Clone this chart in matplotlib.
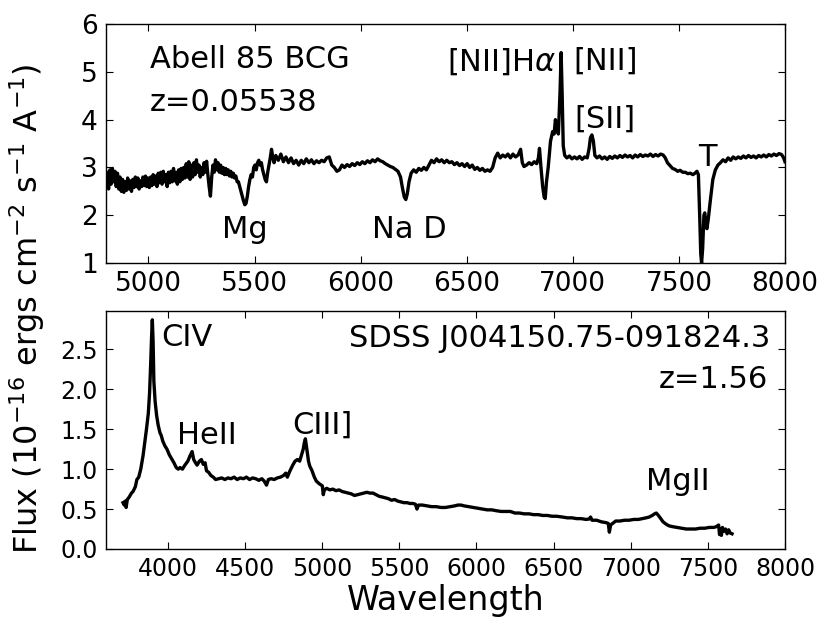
import matplotlib
matplotlib.use('Agg')
import matplotlib.pyplot as plt

plt.rcParams.update({'font.family': 'DejaVu Sans', 'mathtext.fontset': 'dejavusans'})

# espectro da BCG de Abell 85
onda_bcg = [4800, 4806, 4812, 4818, 4824, 4830, 4836, 4842, 4848, 4854, 4860, 4866, 4872, 4878,
            4884, 4890, 4896, 4902, 4908, 4914, 4920, 4926, 4932, 4938, 4944, 4950, 4956, 4962,
            4968, 4974, 4980, 4986, 4992, 4998, 5004, 5010, 5016, 5022, 5028, 5034, 5040, 5046,
            5052, 5058, 5064, 5070, 5076, 5082, 5088, 5094, 5100, 5106, 5112, 5118, 5124, 5130,
            5136, 5142, 5148, 5154, 5160, 5166, 5172, 5178, 5184, 5190, 5196, 5202, 5208, 5214,
            5220, 5226, 5232, 5238, 5244, 5250, 5256, 5262, 5268, 5274, 5280, 5286, 5292, 5298,
            5304, 5310, 5316, 5322, 5328, 5334, 5340, 5346, 5352, 5358, 5364, 5370, 5376, 5382,
            5388, 5394, 5400, 5406, 5412, 5418, 5424, 5430, 5436, 5442, 5448, 5454, 5460, 5466,
            5472, 5478, 5484, 5490, 5496, 5502, 5508, 5514, 5520, 5526, 5532, 5538, 5544, 5550,
            5556, 5562, 5568, 5574, 5580, 5586, 5592,
            5600, 5612, 5624, 5636, 5648, 5660, 5672, 5684, 5696, 5708, 5720, 5732, 5744, 5756,
            5768, 5780, 5792, 5804, 5816, 5828, 5840, 5852, 5864, 5876, 5888, 5900, 5912, 5924,
            5936, 5948, 5960, 5972, 5984, 5996, 6008, 6020, 6032, 6044, 6056, 6068, 6080, 6092,
            6104, 6116, 6128, 6140, 6152, 6164, 6176, 6188, 6198, 6206, 6213, 6220, 6228, 6238,
            6250, 6262, 6274, 6286, 6298, 6310, 6322, 6334, 6346, 6358, 6370, 6382, 6394, 6406,
            6418, 6430, 6442, 6454, 6466, 6478, 6490, 6502, 6514, 6526, 6538, 6550, 6562, 6574,
            6586, 6598, 6610, 6622, 6634, 6646, 6658, 6670, 6682, 6694, 6706, 6718, 6730, 6742,
            6754, 6762, 6770, 6782, 6794, 6806, 6818, 6830, 6838, 6843, 6850, 6858, 6865, 6870,
            6876, 6884, 6895, 6905, 6912, 6918, 6925, 6932, 6940, 6945, 6950, 6955, 6962, 6972,
            6984, 6996, 7008, 7020, 7032, 7044, 7056, 7068, 7077, 7083, 7090, 7097, 7104, 7114,
            7126, 7138, 7150, 7162, 7174, 7186, 7198, 7210, 7222, 7234, 7246, 7258, 7270, 7282,
            7294, 7306, 7318, 7330, 7342, 7354, 7366, 7378, 7390, 7402, 7414, 7426, 7436, 7446,
            7458, 7470, 7482, 7494, 7506, 7518, 7530, 7542, 7554, 7566, 7576, 7585, 7592, 7598,
            7603, 7607, 7612, 7618, 7622, 7628, 7632, 7638, 7648, 7660, 7672, 7684, 7696, 7708,
            7720, 7732, 7744, 7756, 7768, 7780, 7792, 7804, 7816, 7828, 7840, 7852, 7864, 7876,
            7888, 7900, 7912, 7924, 7936, 7948, 7960, 7972, 7984, 7994, 8000]
fluxo_bcg = [2.62, 2.9, 2.55, 2.95, 2.65, 2.98, 2.7, 2.92, 2.6, 2.88, 2.55, 2.8, 2.5, 2.75,
             2.48, 2.7, 2.52, 2.78, 2.55, 2.72, 2.5, 2.75, 2.58, 2.8, 2.6, 2.78, 2.55, 2.72,
             2.6, 2.8, 2.62, 2.82, 2.6, 2.78, 2.58, 2.8, 2.62, 2.85, 2.65, 2.82, 2.6, 2.88,
             2.68, 2.9, 2.65, 2.92, 2.7, 2.85, 2.6, 2.9, 2.68, 2.92, 2.7, 2.98, 2.72, 2.9,
             2.65, 2.95, 2.7, 2.98, 2.75, 3.0, 2.78, 3.08, 2.8, 3.12, 2.75, 3.05, 2.8, 3.1,
             2.85, 3.16, 2.9, 3.05, 2.8, 3.0, 2.85, 3.1, 2.9, 3.13, 2.85, 2.6, 2.4, 2.8,
             3.05, 2.9, 3.16, 2.95, 3.1, 2.9, 3.05, 2.88, 3.0, 2.85, 2.98, 2.85, 2.95, 2.82,
             2.92, 2.8, 2.88, 2.78, 2.82, 2.7, 2.7, 2.6, 2.5, 2.4, 2.3, 2.22, 2.25, 2.4,
             2.6, 2.75, 2.85, 2.8, 3.0, 3.05, 2.95, 3.1, 3.15, 3.05, 3.1, 2.95, 2.85, 2.75,
             2.7, 2.9, 3.05, 3.2, 3.38, 3.2, 3.1,
             3.25, 3.15, 3.28, 3.12, 3.22, 3.1, 3.2, 3.08, 3.15, 3.05, 3.15, 3.08, 3.18, 3.1,
             3.16, 3.08, 3.14, 3.1, 3.15, 3.12, 3.2, 3.22, 3.05, 3.0, 2.92, 2.95, 3.05, 3.0,
             3.06, 3.02, 3.08, 3.04, 3.1, 3.06, 3.12, 3.08, 3.14, 3.1, 3.16, 3.12, 3.18, 3.14,
             3.12, 3.08, 3.05, 3.02, 3.0, 2.96, 2.92, 2.8, 2.55, 2.38, 2.33, 2.45, 2.7, 2.88,
             2.95, 2.9, 2.98, 2.94, 3.0, 2.95, 3.05, 3.15, 3.1, 3.18, 3.12, 3.16, 3.1, 3.15,
             3.1, 3.12, 3.06, 3.1, 3.04, 3.08, 3.02, 3.08, 3.0, 3.05, 2.96, 3.0, 2.94, 2.98,
             2.92, 2.95, 2.92, 3.0, 3.2, 3.3, 3.2, 3.26, 3.22, 3.28, 3.2, 3.28, 3.22, 3.26,
             3.38, 3.1, 3.02, 3.05, 3.1, 3.06, 3.12, 3.08, 3.2, 3.4, 3.0, 2.6, 2.38, 2.35,
             2.7, 3.0, 3.55, 3.75, 3.7, 4.0, 3.8, 3.7, 4.6, 5.4, 4.5, 3.45, 3.25, 3.2,
             3.24, 3.18, 3.22, 3.18, 3.23, 3.17, 3.22, 3.2, 3.4, 3.62, 3.68, 3.55, 3.25, 3.2,
             3.24, 3.18, 3.22, 3.17, 3.23, 3.19, 3.24, 3.2, 3.25, 3.21, 3.26, 3.22, 3.25, 3.2,
             3.26, 3.22, 3.27, 3.23, 3.26, 3.24, 3.28, 3.23, 3.27, 3.24, 3.28, 3.26, 3.2, 3.1,
             3.04, 2.98, 2.96, 2.92, 2.94, 2.9, 2.9, 2.87, 2.88, 2.85, 2.88, 2.92, 2.85, 2.0,
             1.2, 1.0, 1.3, 2.0, 2.05, 1.8, 1.72, 1.9, 2.3, 2.75, 2.95, 3.05, 3.1, 3.16,
             3.12, 3.2, 3.15, 3.22, 3.18, 3.22, 3.19, 3.24, 3.2, 3.25, 3.21, 3.24, 3.2, 3.25,
             3.22, 3.26, 3.22, 3.27, 3.24, 3.28, 3.25, 3.29, 3.27, 3.2, 3.12]

# espectro do quasar SDSS
onda_qso = [3710, 3718, 3725, 3730, 3738, 3750, 3765, 3775, 3790, 3800, 3812, 3825, 3840, 3852,
            3862, 3874, 3882, 3889, 3895, 3900, 3905, 3910, 3918, 3928, 3938, 3949, 3958, 3968,
            3982, 3995, 4010, 4025, 4040, 4055, 4068, 4080, 4095, 4111, 4130, 4145, 4158, 4168,
            4180, 4190, 4205, 4218, 4230, 4242, 4251, 4265, 4280, 4295, 4310, 4330, 4350, 4370,
            4390, 4410, 4430, 4450, 4470, 4490, 4510, 4530, 4550, 4570, 4590, 4610, 4625, 4640,
            4652, 4670, 4690, 4710, 4730, 4750, 4765, 4775, 4790, 4810, 4825, 4840, 4855, 4866,
            4878, 4885, 4892, 4898, 4905, 4912, 4920, 4935, 4950, 4963, 4980, 4995, 5002, 5008,
            5015, 5030, 5050, 5070, 5090, 5110, 5130, 5150, 5170, 5190, 5210, 5230, 5250, 5270,
            5290, 5310, 5330, 5350, 5370, 5392, 5410, 5430, 5450, 5470, 5490, 5510, 5530, 5550,
            5570, 5590, 5605, 5615, 5625, 5650, 5680, 5710, 5740, 5770, 5800, 5830, 5860, 5880,
            5901, 5920, 5950, 5980, 6010, 6040, 6070, 6100, 6127, 6160, 6190, 6220, 6250, 6280,
            6310, 6342, 6370, 6400, 6430, 6460, 6490, 6520, 6558, 6590, 6620, 6650, 6680, 6710,
            6731, 6740, 6750, 6780, 6810, 6840, 6855, 6862, 6870, 6890, 6903, 6930, 6960, 6990,
            7020, 7050, 7075, 7100, 7120, 7140, 7155, 7166, 7180, 7195, 7210, 7230, 7248, 7270,
            7300, 7330, 7360, 7390, 7421, 7450, 7480, 7510, 7540, 7555, 7570, 7576, 7582, 7588,
            7595, 7603, 7615, 7625, 7635, 7645, 7657]
fluxo_qso = [0.58, 0.55, 0.6, 0.52, 0.62, 0.65, 0.7, 0.72, 0.78, 0.87, 0.9, 1.0, 1.17, 1.35,
             1.5, 1.7, 1.95, 2.3, 2.65, 2.87, 2.6, 2.1, 1.85, 1.67, 1.55, 1.46, 1.42, 1.35,
             1.29, 1.25, 1.18, 1.13, 1.08, 1.02, 1.0, 1.02, 1.0, 1.05, 1.1, 1.17, 1.22, 1.12,
             1.08, 1.05, 1.1, 1.12, 1.06, 1.08, 0.98, 0.96, 0.92, 0.9, 0.87, 0.88, 0.89, 0.87,
             0.89, 0.88, 0.9, 0.87, 0.89, 0.88, 0.9, 0.87, 0.89, 0.88, 0.86, 0.88, 0.85, 0.8,
             0.87, 0.88, 0.87, 0.89, 0.9, 0.92, 0.95, 0.9, 0.97, 1.05, 1.1, 1.12, 1.1, 1.17,
             1.25, 1.33, 1.38, 1.3, 1.2, 1.1, 1.04, 0.98, 0.9, 0.85, 0.82, 0.8, 0.79, 0.68,
             0.74, 0.76, 0.74, 0.75, 0.73, 0.74, 0.72, 0.71, 0.7, 0.69, 0.67, 0.68, 0.69, 0.7,
             0.71, 0.7, 0.7, 0.68, 0.66, 0.65, 0.64, 0.63, 0.61, 0.62, 0.6, 0.59, 0.58, 0.58,
             0.57, 0.57, 0.56, 0.5, 0.55, 0.55, 0.54, 0.53, 0.53, 0.52, 0.52, 0.53, 0.54, 0.55,
             0.55, 0.54, 0.53, 0.52, 0.51, 0.5, 0.49, 0.49, 0.48, 0.47, 0.47, 0.47, 0.45, 0.45,
             0.44, 0.44, 0.43, 0.43, 0.42, 0.42, 0.41, 0.41, 0.4, 0.39, 0.39, 0.38, 0.38, 0.37,
             0.375, 0.4, 0.36, 0.36, 0.34, 0.33, 0.32, 0.21, 0.3, 0.33, 0.35, 0.35, 0.36, 0.36,
             0.37, 0.37, 0.38, 0.39, 0.4, 0.42, 0.44, 0.45, 0.42, 0.38, 0.34, 0.31, 0.29, 0.28,
             0.27, 0.26, 0.25, 0.25, 0.25, 0.26, 0.26, 0.27, 0.27, 0.28, 0.3, 0.18, 0.25, 0.17,
             0.27, 0.22, 0.25, 0.19, 0.24, 0.2, 0.19]

fig = plt.figure(figsize=(8.31, 6.31), dpi=100)
ax1 = fig.add_axes([0.1276, 0.583, 0.8170, 0.379])
ax2 = fig.add_axes([0.1276, 0.130, 0.8170, 0.377])

# painel de cima
ax1.plot(onda_bcg, fluxo_bcg, 'k-', linewidth=2.4)
ax1.set_xlim(4800, 8000)
ax1.set_ylim(1, 6)
ax1.set_xticks([5000, 5500, 6000, 6500, 7000, 7500, 8000])
ax1.set_yticks([1, 2, 3, 4, 5, 6])
ax1.text(5005, 5.26, 'Abell 85 BCG', fontsize=22, va='center')
ax1.text(5005, 4.36, 'z=0.05538', fontsize=22, va='center')
ax1.text(6920, 5.22, r'[NII]H$\alpha$', fontsize=22, va='center', ha='right')
ax1.text(7003, 5.22, '[NII]', fontsize=22, va='center')
ax1.text(7007, 4.0, '[SII]', fontsize=22, va='center')
ax1.text(7634, 3.2, 'T', fontsize=22, va='center', ha='center')
ax1.text(5452, 1.71, 'Mg', fontsize=22, va='center', ha='center')
ax1.text(6230, 1.71, 'Na D', fontsize=22, va='center', ha='center')

# painel de baixo
ax2.plot(onda_qso, fluxo_qso, 'k-', linewidth=2.4)
ax2.set_xlim(3600, 8000)
ax2.set_ylim(0, 2.98)
ax2.set_xticks([4000, 4500, 5000, 5500, 6000, 6500, 7000, 7500, 8000])
ax2.set_yticks([0.0, 0.5, 1.0, 1.5, 2.0, 2.5])
ax2.set_yticklabels(['0.0', '0.5', '1.0', '1.5', '2.0', '2.5'])
ax2.text(3960, 2.65, 'CIV', fontsize=22, va='center')
ax2.text(4059, 1.42, 'HeII', fontsize=22, va='center')
ax2.text(4807, 1.55, 'CIII]', fontsize=22, va='center')
ax2.text(7100, 0.84, 'MgII', fontsize=22, va='center')
ax2.text(7905, 2.64, 'SDSS J004150.75-091824.3', fontsize=22, va='center', ha='right')
ax2.text(7890, 2.125, 'z=1.56', fontsize=22, va='center', ha='right')
ax2.set_xlabel('Wavelength', fontsize=24, labelpad=2)

for ax in (ax1, ax2):
    ax.tick_params(direction='in', top=True, right=True, length=5, width=0.8, pad=6)
    for s in ax.spines.values():
        s.set_linewidth(1.0)
ax1.tick_params(labelsize=19)
ax2.tick_params(labelsize=17)

fig.text(0.033, 0.51, r'Flux (10$^{-16}$ ergs cm$^{-2}$ s$^{-1}$ A$^{-1}$)', fontsize=23,
         rotation=90, va='center', ha='center')

plt.savefig('out.png', dpi=100)
